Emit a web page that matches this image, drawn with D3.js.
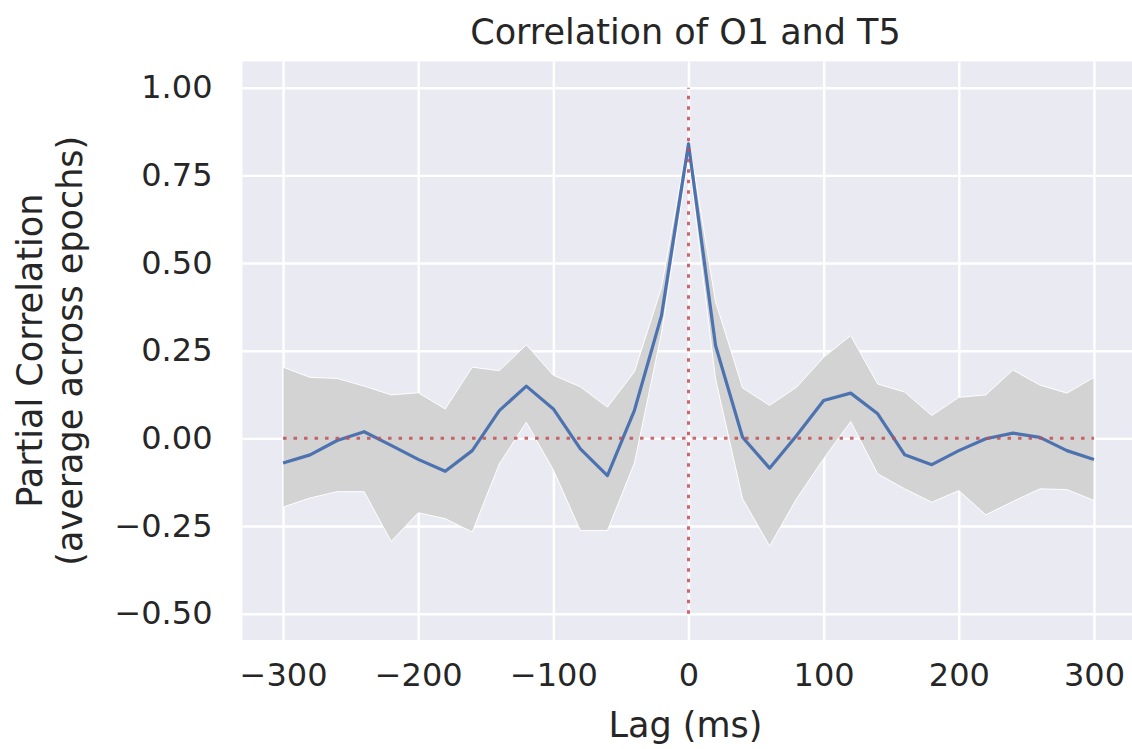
<!DOCTYPE html>
<html><head><meta charset="utf-8">
<script src="https://cdn.jsdelivr.net/npm/d3@7"></script>
<style>html,body{margin:0;padding:0;background:#fff;}svg{display:block;font-family:"DejaVu Sans",sans-serif;}</style>
</head><body>
<svg id="chart" width="1132" height="749"></svg>
<script>
const lags = [-300,-280,-260,-240,-220,-200,-180,-160,-140,-120,-100,-80,-60,-40,-20,0,20,40,60,80,100,120,140,160,180,200,220,240,260,280,300];
const meanCorr = [-0.070,-0.047,-0.006,0.019,-0.020,-0.060,-0.094,-0.035,0.079,0.149,0.084,-0.030,-0.106,0.080,0.350,0.840,0.265,0.003,-0.085,0.008,0.108,0.129,0.070,-0.047,-0.075,-0.035,-0.001,0.015,0.003,-0.035,-0.060];
const upperCorr = [0.203,0.174,0.171,0.149,0.124,0.130,0.084,0.203,0.193,0.267,0.180,0.147,0.089,0.190,0.430,0.860,0.390,0.144,0.094,0.146,0.231,0.293,0.155,0.132,0.065,0.117,0.124,0.195,0.152,0.129,0.174];
const lowerCorr = [-0.196,-0.170,-0.152,-0.152,-0.294,-0.212,-0.229,-0.267,-0.073,0.046,-0.090,-0.263,-0.263,-0.070,0.300,0.800,0.170,-0.172,-0.307,-0.172,-0.058,0.048,-0.101,-0.144,-0.182,-0.149,-0.218,-0.180,-0.144,-0.146,-0.177];
const xTicks = [-300,-200,-100,0,100,200,300];
const yTicks = [-0.5,-0.25,0,0.25,0.5,0.75,1.0];
const titleText = "Correlation of O1 and T5";
const xLabel = "Lag (ms)";
const yLabelLines = ["Partial Correlation","(average across epochs)"];

const svg = d3.select("#chart");
const x = d3.scaleLinear().domain([-330,330]).range([242.5,1134.5]);
const y = d3.scaleLinear().domain([-0.575,1.075]).range([640,61.4]);
const [x0,x1] = x.range(), [y0,y1] = y.range();

svg.append("rect").attr("x",x0).attr("y",y1).attr("width",x1-x0).attr("height",y0-y1).attr("fill","#EAEAF2");

// grid
const gx = svg.append("g").attr("transform",`translate(0,${y0})`)
  .call(d3.axisBottom(x).tickValues(xTicks).tickSize(-(y0-y1)).tickPadding(14)
    .tickFormat(d => d3.format("d")(d).replace("-","\u2212")));
gx.select(".domain").remove();
gx.selectAll(".tick line").attr("stroke","#fff").attr("stroke-width",2.4);
gx.selectAll(".tick text").attr("font-size",32).attr("fill","#262626").attr("font-family","DejaVu Sans").attr("dy","1.0em");

const gy = svg.append("g").attr("transform",`translate(${x0},0)`)
  .call(d3.axisLeft(y).tickValues(yTicks).tickSize(-(x1-x0)).tickPadding(30)
    .tickFormat(d => d3.format(".2f")(d).replace("-","\u2212")));
gy.select(".domain").remove();
gy.selectAll(".tick line").attr("stroke","#fff").attr("stroke-width",2.4);
gy.selectAll(".tick text").attr("font-size",32).attr("fill","#262626").attr("font-family","DejaVu Sans");

const data = lags.map((l,i)=>({l, m:meanCorr[i], u:upperCorr[i], lo:lowerCorr[i]}));

svg.append("path").datum(data)
  .attr("d", d3.area().x(d=>x(d.l)).y0(d=>y(d.lo)).y1(d=>y(d.u)))
  .attr("fill","#d3d3d3").attr("stroke","#fff").attr("stroke-width",1);

svg.append("path").datum(data)
  .attr("d", d3.line().x(d=>x(d.l)).y(d=>y(d.m)))
  .attr("fill","none").attr("stroke","#4C72B0").attr("stroke-width",3.2).attr("stroke-linejoin","round");

// reference lines
svg.append("line").attr("x1",x(-300)).attr("x2",x(300)).attr("y1",y(0)).attr("y2",y(0))
  .attr("stroke","#C44E52").attr("stroke-width",3).attr("stroke-dasharray","3.5,7").attr("opacity",0.85);
svg.append("line").attr("x1",x(0)).attr("x2",x(0)).attr("y1",y(-0.5)).attr("y2",y(1.0))
  .attr("stroke","#C44E52").attr("stroke-width",3).attr("stroke-dasharray","3.5,7").attr("opacity",0.85);

// texts
svg.append("text").attr("x",(x0+x1)/2 - 3).attr("y",44).attr("text-anchor","middle")
  .attr("font-size",35).attr("fill","#262626").text(titleText);
svg.append("text").attr("x",(x0+x1)/2 - 3).attr("y",737).attr("text-anchor","middle")
  .attr("font-size",35).attr("fill","#262626").text(xLabel);
const yl = svg.append("text").attr("transform",`translate(0,${(y0+y1)/2}) rotate(-90)`)
  .attr("text-anchor","middle").attr("font-size",35).attr("fill","#262626");
yl.append("tspan").attr("x",0).attr("y",42).text(yLabelLines[0]);
yl.append("tspan").attr("x",0).attr("y",82).text(yLabelLines[1]);
</script>
</body></html>
